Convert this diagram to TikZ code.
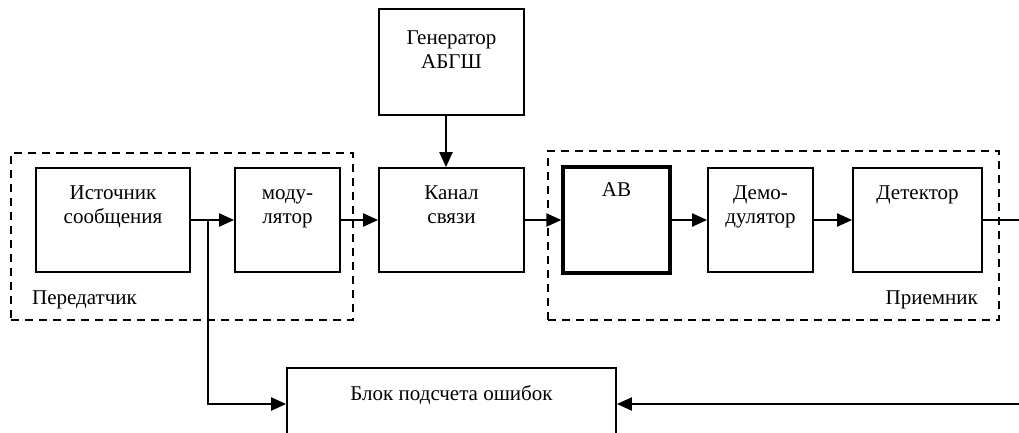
\documentclass[tikz,border=0pt]{standalone}
\usepackage{fontspec}
\setmainfont{Liberation Serif}
\usetikzlibrary{arrows.meta}
\tikzset{
  boxnode/.style={draw, line width=1.8pt, inner sep=0pt, minimum height=104pt},
  thickbox/.style={boxnode, line width=3.3pt},
  grpbox/.style={draw, line width=1.8pt, dash pattern=on 8pt off 6pt, inner sep=0pt},
  arr/.style={line width=2.2pt, -{Triangle[length=15pt,width=13pt]}},
  plain/.style={line width=2.2pt},
  txt/.style={font=\fontsize{21}{24}\selectfont, align=center, inner sep=0pt},
}
\begin{document}
\begin{tikzpicture}[x=1pt,y=-1pt]
\useasboundingbox (0,0) rectangle (1019,433);
\clip (0,0) rectangle (1019,433);
% groups
\node[grpbox, minimum width=342pt, minimum height=167pt] (tx) at (182,236.5) {};
\node[grpbox, minimum width=451pt, minimum height=169pt] (rx) at (773.5,235.5) {};
% boxes
\node[boxnode, minimum width=145pt, minimum height=106pt] (gen) at (451.5,62) {};
\node[boxnode, minimum width=154pt] (src) at (113,220) {};
\node[boxnode, minimum width=105pt] (mod) at (287.5,220) {};
\node[boxnode, minimum width=145pt] (chan) at (451.5,220) {};
\node[thickbox, minimum width=107pt, minimum height=106pt] (ab) at (616.5,220) {};
\node[boxnode, minimum width=105pt] (dem) at (760.5,220) {};
\node[boxnode, minimum width=129pt] (det) at (917.5,220) {};
\node[boxnode, minimum width=329pt, minimum height=72pt] (blk) at (451.5,404) {};
% texts
\node[txt, anchor=north, yshift=-19pt] (gent) at (gen.north) {\strut Генератор\\АБГШ};
\node[txt, anchor=north, yshift=-15pt] (srct) at (src.north) {\strut Источник\\сообщения};
\node[txt, anchor=north, yshift=-15pt] (modt) at (mod.north) {\strut моду-\\лятор};
\node[txt, anchor=north, yshift=-15pt] (chant) at (chan.north) {\strut Канал\\связи};
\node[txt, anchor=north, yshift=-14pt] (abt) at (ab.north) {\strut АВ};
\node[txt, anchor=north, yshift=-15pt] (demt) at (dem.north) {\strut Демо-\\дулятор};
\node[txt, anchor=north, yshift=-15pt] (dett) at (det.north) {\strut Детектор};
\node[txt, anchor=base] (blkt) at (451.5,400) {Блок подсчета ошибок};
\node[txt, anchor=base west] (txl) at (32,304) {Передатчик};
\node[txt, anchor=base east] (rxl) at (978,304) {Приемник};
% connectors
\coordinate (br) at (208,220);
\coordinate (out) at (1019,220);
\coordinate (ret) at (1019,404);
\draw[arr] (src.east) -- (mod.west);
\draw[arr] (mod.east) -- (chan.west);
\draw[arr] (chan.east) -- (ab.west);
\draw[arr] (ab.east) -- (dem.west);
\draw[arr] (dem.east) -- (det.west);
\draw[plain] (det.east) -- (out);
\draw[arr] ([xshift=-5.5pt]gen.south) -- ([xshift=-5.5pt]chan.north);
\draw[arr] (br) |- (blk.west);
\draw[arr] (ret) -- (blk.east);
\end{tikzpicture}
\end{document}
